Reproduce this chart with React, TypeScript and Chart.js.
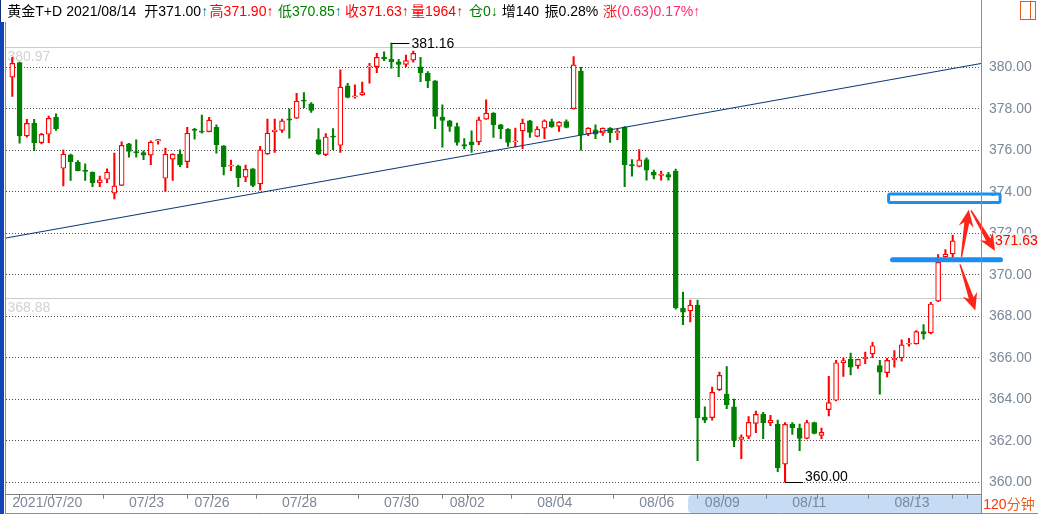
import React, { useEffect, useRef } from 'react';
import { Chart, registerables } from 'chart.js';

Chart.register(...registerables);

const FONT = '"Liberation Sans", Arial, "Noto Sans CJK SC", sans-serif';

// ---- data (120-minute bars, 黄金T+D) ----
const opens = [
  379.52, 380.22, 376.69, 377.30, 376.37, 376.77, 377.59, 375.13, 375.78, 375.42,
  375.00, 374.94, 374.44, 374.60, 373.93, 374.31, 376.31, 375.92, 375.89, 375.76,
  376.45, 374.65, 375.57, 375.82, 375.45, 376.97, 376.89, 376.90, 377.11, 376.21,
  375.23, 375.24, 374.70, 375.10, 374.38, 375.82, 376.90, 376.96, 377.47, 377.55,
  378.38, 378.24, 376.51, 375.79, 376.65, 376.24, 379.10, 378.57, 378.67, 380.00,
  380.03, 380.48, 380.38, 380.26, 380.14, 380.34, 380.02, 379.71, 379.34, 377.60,
  377.42, 377.14, 376.27, 376.40, 376.40, 377.50, 377.79, 377.23, 377.02, 376.40,
  376.93, 377.42, 376.67, 377.06, 377.38, 377.15, 377.38, 378.00, 379.82, 376.78,
  376.98, 376.83, 377.07, 376.83, 377.12, 375.31, 375.22, 375.55, 374.94, 374.79,
  374.83, 374.99, 368.39, 368.26, 368.54, 363.14, 363.11, 364.46, 364.25, 363.63,
  362.07, 362.21, 362.84, 363.27, 362.87, 362.79, 360.87, 362.79, 362.61, 362.11,
  362.88, 362.26, 363.50, 363.95, 365.76, 365.92, 365.62, 365.96, 366.19, 365.62,
  365.28, 365.91, 366.00, 366.65, 366.67, 367.26, 367.20, 368.73, 370.86, 371.00,
];
const highs = [
  380.48, 380.25, 377.49, 377.49, 376.82, 377.65, 377.75, 376.02, 375.82, 375.50,
  375.34, 374.96, 374.76, 375.10, 375.86, 376.40, 376.33, 376.50, 375.97, 376.45,
  376.53, 376.11, 375.83, 376.02, 377.11, 377.06, 377.70, 377.59, 377.22, 376.23,
  375.53, 375.29, 375.29, 375.12, 376.19, 377.50, 377.50, 377.50, 378.00, 378.74,
  378.78, 378.30, 377.04, 376.80, 377.04, 379.87, 379.23, 379.15, 379.28, 380.19,
  380.67, 380.74, 381.16, 380.38, 380.59, 380.78, 380.48, 379.79, 379.36, 378.19,
  377.44, 377.31, 376.56, 376.94, 377.60, 378.43, 377.81, 377.25, 377.04, 377.07,
  377.50, 377.44, 377.14, 377.47, 377.50, 377.38, 377.47, 380.51, 380.00, 377.09,
  377.23, 377.08, 377.09, 377.02, 377.14, 375.55, 376.03, 375.63, 375.04, 374.99,
  374.94, 375.09, 369.16, 368.78, 368.78, 363.64, 364.59, 365.31, 365.57, 364.01,
  362.28, 363.16, 363.43, 363.37, 363.22, 363.00, 362.87, 362.87, 362.80, 362.99,
  362.90, 362.61, 365.10, 365.87, 365.98, 366.22, 365.94, 366.27, 366.74, 365.87,
  365.97, 366.35, 366.86, 366.94, 367.31, 367.60, 368.67, 370.97, 371.21, 371.90,
];
const lows = [
  378.59, 376.34, 376.63, 375.98, 376.31, 376.37, 376.95, 374.28, 374.54, 375.00,
  374.54, 374.25, 374.25, 374.44, 373.65, 374.29, 375.66, 375.66, 375.55, 375.31,
  376.29, 374.01, 374.54, 375.21, 375.16, 376.53, 376.82, 376.88, 375.86, 374.81,
  375.02, 374.25, 374.49, 374.25, 374.08, 375.80, 375.90, 376.86, 376.58, 377.53,
  378.05, 377.82, 375.79, 375.74, 376.03, 375.90, 378.52, 378.51, 378.64, 379.23,
  379.74, 380.32, 379.95, 379.55, 380.03, 380.24, 379.31, 379.02, 377.04, 376.15,
  376.91, 376.24, 376.06, 375.90, 376.27, 377.48, 376.62, 376.56, 376.19, 376.16,
  376.08, 376.62, 376.65, 376.56, 377.10, 376.91, 377.08, 377.98, 376.00, 376.70,
  376.56, 376.72, 376.38, 376.51, 374.25, 374.75, 375.20, 374.56, 374.62, 374.56,
  374.56, 368.34, 367.59, 367.73, 361.04, 362.87, 362.99, 364.41, 363.55, 361.72,
  361.14, 362.10, 362.39, 362.10, 362.73, 360.51, 360.00, 362.31, 361.52, 362.09,
  362.33, 362.10, 363.20, 363.92, 365.10, 365.17, 365.49, 365.71, 366.00, 364.24,
  365.07, 365.55, 365.84, 366.56, 366.65, 366.90, 367.15, 368.70, 370.84, 370.85,
];
const closes = [
  380.19, 376.69, 377.30, 376.37, 376.77, 377.54, 377.03, 375.81, 375.45, 375.02,
  374.98, 374.44, 374.57, 374.94, 374.28, 376.24, 375.94, 375.88, 375.76, 376.39,
  376.48, 375.81, 375.81, 375.29, 376.82, 376.95, 376.87, 377.45, 376.27, 375.21,
  375.26, 374.68, 375.08, 374.30, 376.02, 376.83, 376.96, 377.42, 377.45, 378.37,
  378.36, 377.92, 375.84, 376.64, 376.63, 379.04, 378.54, 378.61, 378.78, 380.05,
  380.48, 380.40, 380.27, 380.14, 380.32, 380.67, 379.74, 379.34, 377.63, 377.44,
  377.15, 376.38, 376.20, 376.27, 377.46, 377.79, 377.23, 377.04, 376.38, 376.43,
  377.31, 376.86, 377.02, 377.42, 377.14, 377.36, 377.10, 380.11, 376.74, 377.07,
  376.78, 377.06, 376.83, 376.91, 375.31, 375.25, 375.54, 375.04, 374.80, 374.81,
  374.70, 368.41, 368.20, 368.54, 363.11, 362.99, 364.33, 365.15, 363.74, 362.01,
  362.18, 362.89, 363.27, 362.87, 362.98, 360.70, 362.79, 362.63, 362.11, 362.88,
  362.35, 362.40, 363.84, 365.76, 365.86, 365.55, 365.92, 365.98, 366.58, 365.31,
  365.87, 365.97, 366.62, 366.67, 367.26, 367.15, 368.59, 370.60, 370.99, 371.63,
];

const tickIndices = [0, 2, 9, 16, 23, 25, 30, 37, 44, 51, 58, 60, 65, 72, 79, 86, 93, 95, 100, 107, 114, 121, 128, 130];
const labelIndices = [0, 16, 25, 37, 51, 60, 72, 86, 95, 107, 121];
const labelTexts = ['2021/07/20', '07/23', '07/26', '07/28', '07/30', '08/02', '08/04', '08/06', '08/09', '08/11', '08/13'];
const yTicks = [360, 362, 364, 366, 368, 370, 372, 374, 376, 378, 380];

const trendLine = [
  { x: -0.86, y: 371.77 },
  { x: 132.88, y: 380.18 },
];
const rangeLines = [380.97, 368.88];
const highMark = { index: 52, value: 381.16 };
const lowMark = { index: 106, value: 360.0 };
const lastPrice = 371.63;

// drawn annotations (data space: bar index / price)
const boxZone = { x0: 120.0, x1: 135.7, y0: 373.96, y1: 373.41 };
const barZone = { x0: 120.4, x1: 135.9, y: 370.72 };
const arrowList = [
  { x0: 130.2, y0: 370.86, x1: 131.2, y1: 373.13 },
  { x0: 131.5, y0: 373.1, x1: 134.8, y1: 371.15 },
  { x0: 130.0, y0: 370.5, x1: 132.1, y1: 368.28 },
];
const scrollFrom = 92.7;

const X_MIN = -0.864;
const X_MAX = 132.88;
const Y_MIN = 359.4;
const Y_MAX = 382.18;

const RED = '#ff0000';
const GREEN = '#008000';

const fmt = (v: number) => v.toFixed(2);

function drawArrow(ctx: CanvasRenderingContext2D, x0: number, y0: number, x1: number, y1: number) {
  const dx = x1 - x0;
  const dy = y1 - y0;
  const len = Math.hypot(dx, dy);
  const ux = dx / len;
  const uy = dy / len;
  const nx = -uy;
  const ny = ux;
  const headLen = 15;
  const headW = 15;
  const w0 = 1.4;
  const w1 = 5;
  const bx = x1 - ux * headLen;
  const by = y1 - uy * headLen;
  ctx.beginPath();
  ctx.moveTo(x0 + (nx * w0) / 2, y0 + (ny * w0) / 2);
  ctx.lineTo(bx + ux * 2 + (nx * w1) / 2, by + uy * 2 + (ny * w1) / 2);
  ctx.lineTo(bx - ux * 2 + (nx * headW) / 2, by - uy * 2 + (ny * headW) / 2);
  ctx.lineTo(x1, y1);
  ctx.lineTo(bx - ux * 2 - (nx * headW) / 2, by - uy * 2 - (ny * headW) / 2);
  ctx.lineTo(bx + ux * 2 - (nx * w1) / 2, by + uy * 2 - (ny * w1) / 2);
  ctx.lineTo(x0 - (nx * w0) / 2, y0 - (ny * w0) / 2);
  ctx.closePath();
  ctx.fill();
}

const decorPlugin = {
  id: 'decor',
  beforeDraw(chart: any) {
    const { ctx, scales } = chart;
    const x = scales.x;
    ctx.save();
    ctx.fillStyle = '#ffffff';
    ctx.fillRect(0, 0, chart.width, chart.height);
    // scroll highlight in the time axis
    const sx = x.getPixelForValue(scrollFrom);
    const top = chart.chartArea.bottom + 0.5;
    const bot = 513;
    const r = 4;
    const ex = chart.chartArea.right;
    ctx.fillStyle = '#c5dcf4';
    ctx.beginPath();
    ctx.moveTo(sx + r, top);
    ctx.lineTo(ex, top);
    ctx.lineTo(ex, bot);
    ctx.lineTo(sx + r, bot);
    ctx.quadraticCurveTo(sx, bot, sx, bot - r);
    ctx.lineTo(sx, top + r);
    ctx.quadraticCurveTo(sx, top, sx + r, top);
    ctx.closePath();
    ctx.fill();
    ctx.restore();
  },
  beforeDatasetsDraw(chart: any) {
    const { ctx, chartArea, scales } = chart;
    const y = scales.y;
    ctx.save();
    ctx.strokeStyle = '#cccccc';
    ctx.lineWidth = 1;
    ctx.font = `14px ${FONT}`;
    ctx.fillStyle = '#d2d2d2';
    ctx.textBaseline = 'alphabetic';
    ctx.textAlign = 'left';
    rangeLines.forEach((v) => {
      const py = Math.round(y.getPixelForValue(v)) + 0.5;
      ctx.beginPath();
      ctx.moveTo(chartArea.left, py);
      ctx.lineTo(chartArea.right, py);
      ctx.stroke();
      ctx.fillText(fmt(v), chartArea.left + 1.5, py + 13.5);
    });
    ctx.restore();
  },
  afterDraw(chart: any) {
    const { ctx, chartArea, scales } = chart;
    const x = scales.x;
    const y = scales.y;
    ctx.save();

    // high / low markers
    ctx.strokeStyle = '#000';
    ctx.fillStyle = '#000';
    ctx.lineWidth = 1;
    ctx.font = `14px ${FONT}`;
    ctx.textAlign = 'left';
    const hx = x.getPixelForValue(highMark.index);
    const hy = Math.round(y.getPixelForValue(highMark.value)) + 0.5;
    ctx.beginPath();
    ctx.moveTo(hx, hy);
    ctx.lineTo(hx + 18, hy);
    ctx.stroke();
    ctx.textBaseline = 'middle';
    ctx.fillText(fmt(highMark.value), hx + 20, hy + 0.5);

    const lx = x.getPixelForValue(lowMark.index);
    const ly = Math.round(y.getPixelForValue(lowMark.value)) + 0.5;
    ctx.beginPath();
    ctx.moveTo(lx, ly);
    ctx.lineTo(lx + 18, ly);
    ctx.stroke();
    ctx.textBaseline = 'alphabetic';
    ctx.fillText(fmt(lowMark.value), lx + 20, ly - 2);

    // last price tag
    const py = y.getPixelForValue(lastPrice);
    ctx.fillStyle = '#eef4ee';
    ctx.fillRect(chartArea.right + 12, py - 7.5, chart.width - chartArea.right - 12, 15);
    ctx.fillStyle = RED;
    ctx.textBaseline = 'middle';
    ctx.fillText(fmt(lastPrice), chartArea.right + 14, py + 0.5);

    // blue box and bar
    ctx.strokeStyle = '#1b8fef';
    ctx.lineWidth = 3;
    const bx0 = x.getPixelForValue(boxZone.x0) + 1.5;
    const bx1 = x.getPixelForValue(boxZone.x1) - 1.5;
    const by0 = y.getPixelForValue(boxZone.y0) + 1.5;
    const by1 = y.getPixelForValue(boxZone.y1) - 1.5;
    ctx.beginPath();
    ctx.roundRect(bx0, by0, bx1 - bx0, by1 - by0, 1.5);
    ctx.stroke();

    ctx.lineWidth = 5;
    ctx.lineCap = 'round';
    const rx0 = x.getPixelForValue(barZone.x0) + 2.5;
    const rx1 = x.getPixelForValue(barZone.x1) - 2.5;
    const ry = y.getPixelForValue(barZone.y);
    ctx.beginPath();
    ctx.moveTo(rx0, ry);
    ctx.lineTo(rx1, ry);
    ctx.stroke();
    ctx.lineCap = 'butt';

    // red arrows
    ctx.fillStyle = '#ff2418';
    arrowList.forEach((a) => {
      drawArrow(
        ctx,
        x.getPixelForValue(a.x0),
        y.getPixelForValue(a.y0),
        x.getPixelForValue(a.x1),
        y.getPixelForValue(a.y1)
      );
    });

    // frame
    ctx.lineWidth = 1;
    ctx.strokeStyle = '#8c8c8c';
    const axX = Math.round(chartArea.right) + 0.5;
    ctx.beginPath();
    ctx.moveTo(axX, 0);
    ctx.lineTo(axX, chart.height);
    ctx.moveTo(5, 513.5);
    ctx.lineTo(chart.width, 513.5);
    ctx.moveTo(5.5, 22);
    ctx.lineTo(5.5, chart.height);
    ctx.stroke();
    ctx.fillStyle = '#1244b8';
    ctx.fillRect(0, 22, 4, chart.height - 22);
    ctx.fillStyle = '#12307a';
    ctx.fillRect(0, 0, 1, 22);
    ctx.restore();
  },
};

const idx = opens.map((_, i) => i);
const isUp = idx.map((i) => closes[i] >= opens[i]);

export default function App() {
  const ref = useRef<HTMLCanvasElement>(null);

  useEffect(() => {
    const canvas = ref.current;
    if (!canvas) return;
    const chart = new Chart(canvas, {
      type: 'bar',
      data: {
        datasets: [
          {
            type: 'line',
            data: trendLine,
            borderColor: '#0b3a7a',
            borderWidth: 1.2,
            pointRadius: 0,
            order: -1,
          } as any,
          {
            data: idx.map((i) => ({ x: i, y: [Math.min(opens[i], closes[i]), Math.max(opens[i], closes[i])] })),
            backgroundColor: idx.map((i) => (isUp[i] ? '#ffffff' : GREEN)),
            borderColor: idx.map((i) => (isUp[i] ? RED : GREEN)),
            borderWidth: 1.2,
            borderSkipped: false,
            barThickness: 5,
            minBarLength: 1.2,
            grouped: false,
            order: 0,
          } as any,
          {
            data: idx.map((i) => ({ x: i, y: [lows[i], highs[i]] })),
            backgroundColor: idx.map((i) => (isUp[i] ? RED : GREEN)),
            borderWidth: 0,
            barThickness: 1.4,
            minBarLength: 1,
            grouped: false,
            order: 1,
          } as any,
        ],
      },
      options: {
        responsive: false,
        maintainAspectRatio: false,
        devicePixelRatio: 1,
        animation: false,
        events: [],
        layout: { padding: { left: 6, top: 22, right: 0, bottom: 0 } },
        plugins: { legend: { display: false }, tooltip: { enabled: false } },
        scales: {
          x: {
            type: 'linear',
            min: X_MIN,
            max: X_MAX,
            offset: false,
            afterBuildTicks: (s: any) => {
              s.ticks = tickIndices.map((v) => ({ value: v }));
            },
            afterFit: (s: any) => {
              s.height = 19.3;
            },
            grid: { drawOnChartArea: false, drawTicks: true, tickLength: 4, color: '#808080', lineWidth: 1 },
            border: { display: true, color: '#808080', width: 1 },
            ticks: {
              autoSkip: false,
              maxRotation: 0,
              minRotation: 0,
              align: 'start',
              padding: -4,
              color: '#7b8897',
              font: { family: FONT, size: 14 },
              callback: (v: any) => {
                const k = labelIndices.indexOf(Number(v));
                return k >= 0 ? labelTexts[k] : '';
              },
            },
          },
          y: {
            type: 'linear',
            position: 'right',
            min: Y_MIN,
            max: Y_MAX,
            afterBuildTicks: (s: any) => {
              s.ticks = yTicks.map((v) => ({ value: v }));
            },
            afterFit: (s: any) => {
              s.width = 57;
            },
            grid: { color: '#4a4a4a', drawTicks: false, lineWidth: 1 },
            border: { display: false, dash: [1, 2] },
            ticks: {
              padding: 8,
              color: '#7b8897',
              font: { family: FONT, size: 14 },
              callback: (v: any) => Number(v).toFixed(2),
            },
          },
        },
      } as any,
      plugins: [decorPlugin],
    });
    return () => chart.destroy();
  }, []);

  const last = opens.length - 1;
  const headerItems: { left: number; segs: { t: string; c: string }[] }[] = [
    { left: 7.3, segs: [{ t: '黄金T+D', c: '#000' }] },
    { left: 66.3, segs: [{ t: '2021/08/14', c: '#000' }] },
    { left: 144.3, segs: [{ t: '开' + fmt(opens[last]), c: '#000' }, { t: '↑', c: '#0a7a8c' }] },
    { left: 209.6, segs: [{ t: '高' + fmt(highs[last]) + '↑', c: '#ff0000' }] },
    { left: 278, segs: [{ t: '低' + fmt(lows[last]), c: '#008000' }, { t: '↑', c: '#0a7a8c' }] },
    { left: 345, segs: [{ t: '收' + fmt(closes[last]) + '↑', c: '#ff0000' }] },
    { left: 411, segs: [{ t: '量1964↑', c: '#ff0000' }] },
    { left: 469, segs: [{ t: '仓0↓', c: '#008000' }] },
    { left: 501.7, segs: [{ t: '增140', c: '#000' }] },
    { left: 544.6, segs: [{ t: '振0.28%', c: '#000' }] },
    { left: 603, segs: [{ t: '涨', c: '#ff1a1a' }, { t: '(0.63)0.17%↑', c: '#ff2a6a' }] },
  ];

  return (
    <div style={{ position: 'absolute', left: 0, top: 0, width: 1038, height: 514, background: '#fff', overflow: 'hidden' }}>
      <canvas ref={ref} width={1038} height={514} style={{ display: 'block', width: 1038, height: 514 }} />
      {headerItems.map((h, i) => (
        <div
          key={i}
          style={{
            position: 'absolute',
            left: h.left,
            top: 4.2,
            fontFamily: FONT,
            fontSize: 14,
            lineHeight: '14px',
            whiteSpace: 'nowrap',
          }}
        >
          {h.segs.map((s, j) => (
            <span key={j} style={{ color: s.c }}>
              {s.t}
            </span>
          ))}
        </div>
      ))}
      <div
        style={{
          position: 'absolute',
          left: 1020,
          top: 1,
          width: 16,
          height: 19,
          boxSizing: 'border-box',
          border: '1.5px solid #e65a1e',
        }}
      >
        <div style={{ position: 'absolute', left: 8.5, top: 0, width: 1.5, height: '100%', background: '#e65a1e' }} />
      </div>
      <div
        style={{
          position: 'absolute',
          left: 983.3,
          top: 496.6,
          fontFamily: FONT,
          fontSize: 14,
          lineHeight: '14px',
          whiteSpace: 'nowrap',
        }}
      >
        <span style={{ color: '#ff3300' }}>120</span>
        <span style={{ color: '#e6601a' }}>分钟</span>
      </div>
    </div>
  );
}
